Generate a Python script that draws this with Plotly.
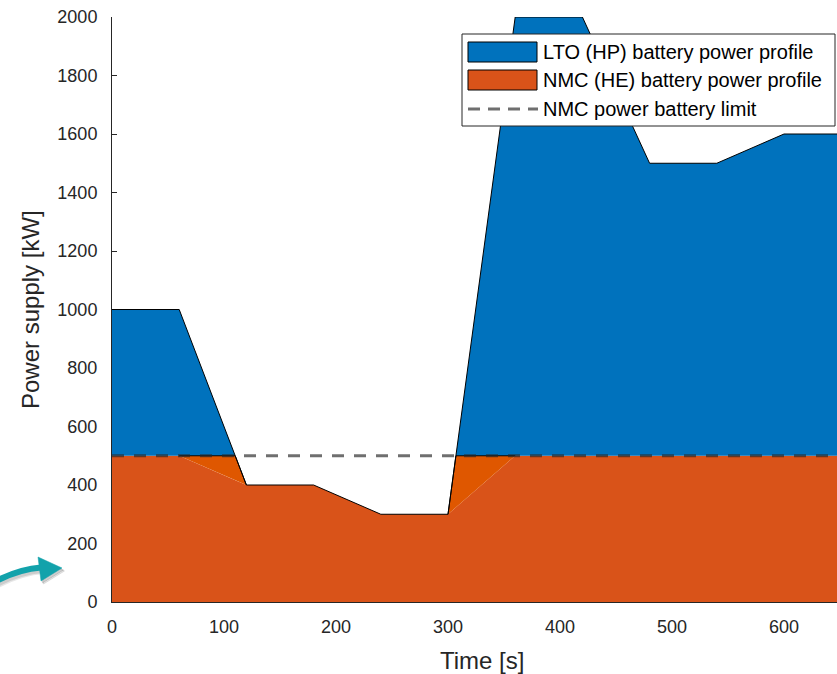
import numpy as np
import plotly.graph_objects as go

# ---- data -------------------------------------------------------------
time_s = [0, 60, 120, 180, 240, 300, 360, 420, 480, 540, 600, 660]
lto_kw = [500, 500, 0, 0, 0, 0, 1500, 1500, 1000, 1000, 1100, 1100]
nmc_kw = [500, 500, 400, 400, 300, 300, 500, 500, 500, 500, 500, 500]
nmc_limit_kw = 500
x_ticks = [0, 100, 200, 300, 400, 500, 600]
y_ticks = list(range(0, 2001, 200))
series_labels = ["LTO (HP) battery power profile",
                 "NMC (HE) battery power profile",
                 "NMC power battery limit"]
x_title = "Time [s]"
y_title = "Power supply [kW]"

BLUE = "#0072BD"
ORANGE = "#D95319"
ORANGE_BRIGHT = "#DF5700"
LIMIT_GREY = "rgba(40,40,40,0.67)"
TEXT = "#262626"
FONT = "Liberation Sans, Arial, sans-serif"

# ---- derived curves -----------------------------------------------------
t = np.array(time_s, float)
nmc = np.array(nmc_kw, float)
total = nmc + np.array(lto_kw, float)

# add points where the total demand crosses the NMC limit
grid = list(t)
for i in range(len(t) - 1):
    a, b = total[i] - nmc_limit_kw, total[i + 1] - nmc_limit_kw
    if a * b < 0:
        grid.append(t[i] + (-a) / (b - a) * (t[i + 1] - t[i]))
grid = np.array(sorted(grid))
tot_g = np.interp(grid, t, total)
nmc_g = np.interp(grid, t, nmc)
cap_g = np.minimum(tot_g, nmc_limit_kw)


def runs(mask):
    """Contiguous runs of True intervals -> list of (start, end) point indices."""
    out, start = [], None
    for j, m in enumerate(mask):
        if m and start is None:
            start = j
        if not m and start is not None:
            out.append((start, j)); start = None
    if start is not None:
        out.append((start, len(mask)))
    return out


mid = lambda arr: (arr[:-1] + arr[1:]) / 2
gap_mask = (mid(cap_g) - mid(nmc_g)) > 1e-6
over_mask = (mid(tot_g) - nmc_limit_kw) > 1e-6

fig = go.Figure()

# NMC share
fig.add_trace(go.Scatter(x=list(grid) + [grid[-1], grid[0]],
                         y=list(nmc_g) + [0, 0], mode="lines", line=dict(width=0),
                         fill="toself", fillcolor=ORANGE, showlegend=False,
                         name=series_labels[1], hoverinfo="skip"))

# demand under the limit that the sampled NMC profile does not cover
edge_x, edge_y = [], []
for s, e in runs(gap_mask):
    xs = list(grid[s:e + 1]); top = list(cap_g[s:e + 1]); bot = list(nmc_g[s:e + 1])
    fig.add_trace(go.Scatter(x=xs + xs[::-1], y=top + bot[::-1], mode="lines",
                             line=dict(width=0), fill="toself",
                             fillcolor=ORANGE_BRIGHT, showlegend=False,
                             hoverinfo="skip"))
    edge_x += xs + [None]; edge_y += top + [None]

# LTO share above the limit
for s, e in runs(over_mask):
    xs = list(grid[s:e + 1]); top = list(tot_g[s:e + 1])
    fig.add_trace(go.Scatter(x=xs + xs[::-1],
                             y=top + [nmc_limit_kw] * len(xs), mode="lines",
                             line=dict(width=0), fill="toself", fillcolor=BLUE,
                             showlegend=False, name=series_labels[0],
                             hoverinfo="skip"))

# outlines
fig.add_trace(go.Scatter(x=grid, y=tot_g, mode="lines",
                         line=dict(width=1, color="black"), showlegend=False,
                         hoverinfo="skip"))
fig.add_trace(go.Scatter(x=edge_x, y=edge_y, mode="lines",
                         line=dict(width=1, color="black"), showlegend=False,
                         hoverinfo="skip"))

# NMC power limit
fig.add_shape(type="line", xref="x", yref="y",
              x0=time_s[0], x1=time_s[-1], y0=nmc_limit_kw, y1=nmc_limit_kw,
              line=dict(color=LIMIT_GREY, width=3, dash="12px,10px"), layer="above")

# ---- geometry helpers (paper coordinates from pixel positions) ----------
W, H = 837, 674
L, R, T, B = 112, 0, 17, 72
pw, ph = W - L - R, H - T - B


def px(x):
    return (x - L) / pw


def py(y):
    return (H - B - y) / ph


# legend box built from shapes + text
fig.add_shape(type="rect", xref="paper", yref="paper",
              x0=px(462), x1=px(835), y0=py(126), y1=py(34),
              line=dict(color=TEXT, width=1), fillcolor="white", layer="above")
for (y0, y1), col in zip([(42, 62), (70, 90)], [BLUE, ORANGE]):
    fig.add_shape(type="rect", xref="paper", yref="paper",
                  x0=px(468), x1=px(537), y0=py(y1), y1=py(y0),
                  line=dict(color="black", width=1), fillcolor=col, layer="above")
fig.add_shape(type="line", xref="paper", yref="paper",
              x0=px(468), x1=px(538), y0=py(109), y1=py(109),
              line=dict(color=LIMIT_GREY, width=3, dash="12px,8px"), layer="above")

for lbl, yc in zip(series_labels, [52, 80, 109]):
    fig.add_annotation(text=lbl, xref="paper", yref="paper", x=px(541), y=py(yc),
                       xanchor="left", yanchor="middle", showarrow=False,
                       font=dict(family=FONT, size=20, color="black"))

# axis titles
fig.add_annotation(text=x_title, xref="paper", yref="paper", x=px(482), y=py(660),
                   xanchor="center", yanchor="middle", showarrow=False,
                   font=dict(family=FONT, size=24, color=TEXT))
fig.add_annotation(text=y_title, xref="paper", yref="paper", x=px(30), y=py(310),
                   xanchor="center", yanchor="middle", showarrow=False,
                   textangle=-90, font=dict(family=FONT, size=24, color=TEXT))

# teal pointer at the lower left
TEAL = "#12A2AB"


def arrow_paths(dx=0.0, dy=0.0):
    stem = (f"M {px(-4 + dx)},{py(581 + dy)} Q {px(20 + dx)},{py(569 + dy)} "
            f"{px(41 + dx)},{py(567.5 + dy)}")
    head = (f"M {px(38 + dx)},{py(557 + dy)} L {px(62 + dx)},{py(568 + dy)} "
            f"L {px(41 + dx)},{py(581 + dy)} Z")
    return stem, head


for (dx, dy, op) in [(2.5, 3, 0.12), (1.5, 2, 0.15)]:
    s, h = arrow_paths(dx, dy)
    fig.add_shape(type="path", xref="paper", yref="paper", path=s,
                  line=dict(color=f"rgba(60,60,60,{op})", width=7), layer="above")
    fig.add_shape(type="path", xref="paper", yref="paper", path=h,
                  line=dict(color=f"rgba(60,60,60,{op})", width=1),
                  fillcolor=f"rgba(60,60,60,{op})", layer="above")
s, h = arrow_paths()
fig.add_shape(type="path", xref="paper", yref="paper", path=s,
              line=dict(color=TEAL, width=6), layer="above")
fig.add_shape(type="path", xref="paper", yref="paper", path=h,
              line=dict(color=TEAL, width=0.5), fillcolor=TEAL, layer="above")

fig.update_layout(
    width=W, height=H,
    margin=dict(l=L, r=R, t=T, b=B, pad=0),
    paper_bgcolor="white", plot_bgcolor="white",
    font=dict(family=FONT, size=18, color=TEXT),
    showlegend=False,
    xaxis=dict(range=[0, (W - L - R) / 1.12], tickvals=x_ticks,
               showgrid=False, zeroline=False, showline=True, linecolor=TEXT,
               linewidth=1, ticks="inside", ticklen=5, tickcolor=TEXT,
               layer="below traces", tickfont=dict(size=18, color=TEXT),
               ticklabelstandoff=8),
    yaxis=dict(range=[0, 2000], tickvals=y_ticks,
               showgrid=False, zeroline=False, showline=True, linecolor=TEXT,
               linewidth=1, ticks="inside", ticklen=5, tickcolor=TEXT,
               layer="below traces", tickfont=dict(size=18, color=TEXT),
               ticklabelstandoff=10),
)

fig.write_html("out.html")
